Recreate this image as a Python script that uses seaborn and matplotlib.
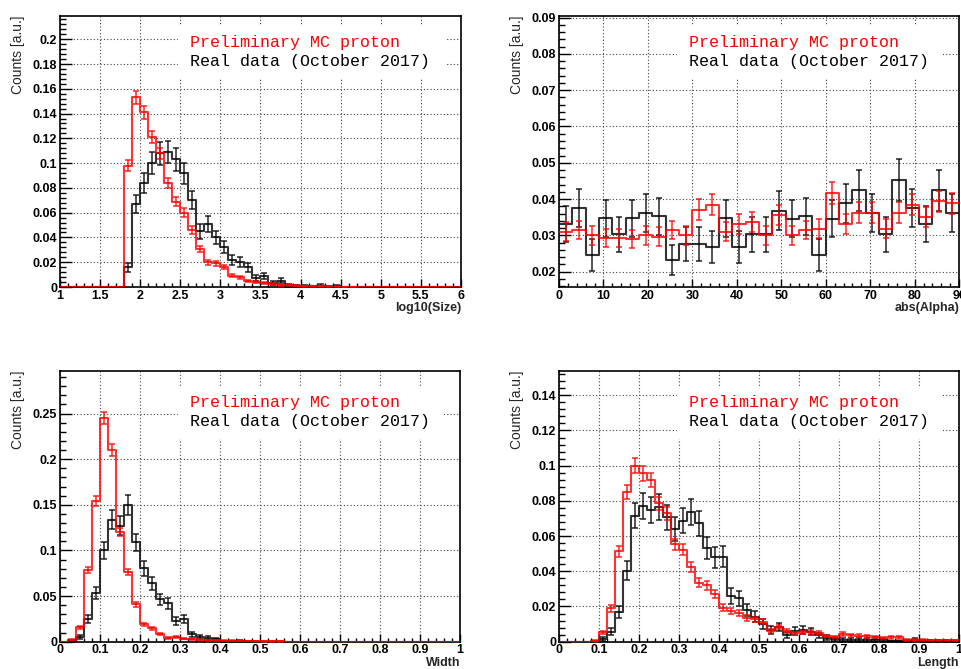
import numpy as np
import pandas as pd
import matplotlib
matplotlib.use("Agg")
import matplotlib.pyplot as plt
from matplotlib.patches import Rectangle
from matplotlib.ticker import MultipleLocator, FuncFormatter
import seaborn as sns

# ---- data (normalised counts per bin) ----
# log10(Size): 50 bins from 1 to 6
size_edges = np.linspace(1.0, 6.0, 51)
size_mc = [
    0, 0, 0, 0, 0, 0, 0, 0, 0.098, 0.153,
    0.141, 0.121, 0.108, 0.084, 0.069, 0.060, 0.046, 0.031, 0.020, 0.019,
    0.016, 0.009, 0.008, 0.005, 0.0043, 0.003, 0.0025, 0.0017, 0.0013, 0.001,
    0.0008, 0.0006, 0.0005, 0.0004, 0.0003, 0.0002, 0.0002, 0, 0, 0,
    0, 0, 0, 0, 0, 0, 0, 0, 0, 0]
size_mc_err = [
    0, 0, 0, 0, 0, 0, 0, 0, 0.0043, 0.0054,
    0.0052, 0.0048, 0.0045, 0.0040, 0.0036, 0.0034, 0.0030, 0.0024, 0.0020, 0.0019,
    0.0017, 0.0013, 0.0012, 0.0010, 0.0009, 0.0008, 0.0007, 0.0006, 0.0005, 0.0004,
    0.0004, 0.0003, 0.0003, 0.0003, 0.0002, 0.0002, 0.0002, 0, 0, 0,
    0, 0, 0, 0, 0, 0, 0, 0, 0, 0]
size_data = [
    0, 0, 0, 0, 0, 0, 0, 0, 0.016, 0.067,
    0.084, 0.100, 0.108, 0.109, 0.103, 0.092, 0.070, 0.045, 0.051, 0.040,
    0.0325, 0.022, 0.020, 0.016, 0.007, 0.009, 0.003, 0.005, 0.0015, 0.001,
    0.0008, 0.0005, 0.0012, 0.0004, 0.0008, 0, 0, 0, 0, 0,
    0, 0, 0, 0, 0, 0, 0, 0, 0, 0]
size_data_err = [
    0, 0, 0, 0, 0, 0, 0, 0, 0.0035, 0.0073,
    0.0081, 0.0089, 0.0092, 0.0092, 0.0090, 0.0085, 0.0074, 0.0059, 0.0063, 0.0056,
    0.0050, 0.0042, 0.0040, 0.0035, 0.0023, 0.0027, 0.0015, 0.0020, 0.0011, 0.0009,
    0.0008, 0.0006, 0.0010, 0.0006, 0.0008, 0, 0, 0, 0, 0,
    0, 0, 0, 0, 0, 0, 0, 0, 0, 0]

# abs(Alpha): 30 bins from 0 to 90
alpha_edges = np.linspace(0.0, 90.0, 31)
alpha_mc = [
    0.0310, 0.0315, 0.0301, 0.0294, 0.0294, 0.0291, 0.0301, 0.0297, 0.0315, 0.0301,
    0.0371, 0.0384, 0.0310, 0.0331, 0.0337, 0.0301, 0.0356, 0.0301, 0.0315, 0.0318,
    0.0416, 0.0332, 0.0363, 0.0363, 0.0319, 0.0363, 0.0384, 0.0350, 0.0394, 0.0388]
alpha_mc_err = [
    0.0026, 0.0026, 0.0026, 0.0025, 0.0025, 0.0025, 0.0026, 0.0025, 0.0026, 0.0026,
    0.0028, 0.0029, 0.0026, 0.0027, 0.0027, 0.0026, 0.0028, 0.0026, 0.0026, 0.0026,
    0.0030, 0.0027, 0.0028, 0.0028, 0.0026, 0.0028, 0.0029, 0.0028, 0.0029, 0.0029]
alpha_data = [
    0.0331, 0.0375, 0.0246, 0.0347, 0.0303, 0.0347, 0.0361, 0.0353, 0.0233, 0.0276,
    0.0276, 0.0268, 0.0347, 0.0268, 0.0303, 0.0303, 0.0368, 0.0346, 0.0353, 0.0246,
    0.0346, 0.0389, 0.0424, 0.0361, 0.0303, 0.0452, 0.0375, 0.0331, 0.0424, 0.0361]
alpha_data_err = [
    0.0050, 0.0053, 0.0043, 0.0051, 0.0048, 0.0051, 0.0052, 0.0051, 0.0042, 0.0046,
    0.0046, 0.0045, 0.0051, 0.0045, 0.0048, 0.0048, 0.0053, 0.0051, 0.0051, 0.0043,
    0.0051, 0.0054, 0.0056, 0.0052, 0.0048, 0.0058, 0.0053, 0.0050, 0.0056, 0.0052]

# Width: 50 bins from 0 to 1
width_edges = np.linspace(0.0, 1.0, 51)
width_mc = [
    0, 0.002, 0.0158, 0.0786, 0.154, 0.245, 0.210, 0.120, 0.0764, 0.041,
    0.019, 0.0146, 0.0081, 0.0044, 0.005, 0.0033, 0.0026, 0.002, 0.0015, 0.0015,
    0.001, 0.001, 0.0008, 0.0008, 0.0006, 0.0005, 0.0004, 0.0003, 0, 0,
    0, 0, 0, 0, 0, 0, 0, 0, 0, 0,
    0, 0, 0, 0, 0, 0, 0, 0, 0, 0]
width_mc_err = [
    0, 0.0006, 0.0017, 0.0037, 0.0052, 0.0066, 0.0061, 0.0046, 0.0037, 0.0027,
    0.0018, 0.0016, 0.0012, 0.0009, 0.0009, 0.0008, 0.0007, 0.0006, 0.0005, 0.0005,
    0.0004, 0.0004, 0.0004, 0.0004, 0.0003, 0.0003, 0.0003, 0.0002, 0, 0,
    0, 0, 0, 0, 0, 0, 0, 0, 0, 0,
    0, 0, 0, 0, 0, 0, 0, 0, 0, 0]
width_data = [
    0, 0.0005, 0.0048, 0.0252, 0.053, 0.100, 0.1334, 0.127, 0.150, 0.109,
    0.0805, 0.064, 0.0465, 0.042, 0.023, 0.0252, 0.0081, 0.0048, 0.004, 0.003,
    0.0005, 0.0003, 0.001, 0.0003, 0, 0, 0, 0, 0, 0,
    0, 0, 0, 0, 0, 0, 0, 0, 0, 0,
    0, 0, 0, 0, 0, 0, 0, 0, 0, 0]
width_data_err = [
    0, 0.0006, 0.0020, 0.0045, 0.0066, 0.0090, 0.0104, 0.0102, 0.0110, 0.0094,
    0.0081, 0.0072, 0.0061, 0.0058, 0.0043, 0.0045, 0.0026, 0.0020, 0.0018, 0.0016,
    0.0006, 0.0005, 0.0009, 0.0005, 0, 0, 0, 0, 0, 0,
    0, 0, 0, 0, 0, 0, 0, 0, 0, 0,
    0, 0, 0, 0, 0, 0, 0, 0, 0, 0]

# Length: 50 bins from 0 to 1
length_edges = np.linspace(0.0, 1.0, 51)
length_mc = [
    0, 0, 0, 0, 0.0005, 0.0053, 0.019, 0.0515, 0.0852, 0.100,
    0.0957, 0.0919, 0.0786, 0.073, 0.0553, 0.0523, 0.0426, 0.0335, 0.032, 0.0269,
    0.0193, 0.0176, 0.0165, 0.0133, 0.0127, 0.0114, 0.0061, 0.0085, 0.0063, 0.0048,
    0.0053, 0.0055, 0.005, 0.0032, 0.0027, 0.0044, 0.0036, 0.0034, 0.003, 0.0028,
    0.0022, 0.0025, 0.0025, 0.001, 0.0009, 0.001, 0.0008, 0.0008, 0.0007, 0.0008]
length_mc_err = [
    0, 0, 0, 0, 0.0003, 0.0010, 0.0019, 0.0031, 0.0039, 0.0043,
    0.0042, 0.0041, 0.0038, 0.0036, 0.0032, 0.0031, 0.0028, 0.0025, 0.0024, 0.0022,
    0.0019, 0.0018, 0.0017, 0.0016, 0.0015, 0.0014, 0.0011, 0.0012, 0.0011, 0.0009,
    0.0010, 0.0010, 0.0010, 0.0008, 0.0007, 0.0009, 0.0008, 0.0008, 0.0007, 0.0007,
    0.0006, 0.0007, 0.0007, 0.0004, 0.0004, 0.0004, 0.0004, 0.0004, 0.0004, 0.0004]
length_data = [
    0, 0, 0, 0, 0, 0.0015, 0.0057, 0.017, 0.0403, 0.0716,
    0.0771, 0.0748, 0.0764, 0.0707, 0.0639, 0.0688, 0.0737, 0.0673, 0.0534, 0.048,
    0.0483, 0.026, 0.0247, 0.018, 0.0142, 0.0101, 0.0066, 0.0082, 0.0038, 0.0061,
    0.0068, 0.0057, 0.0036, 0.0023, 0.0013, 0.001, 0.001, 0.001, 0.001, 0.0008,
    0.0008, 0.0002, 0.0002, 0.0003, 0.0012, 0.0005, 0.0005, 0.0005, 0.0003, 0.0002]
length_data_err = [
    0, 0, 0, 0, 0, 0.0010, 0.0020, 0.0035, 0.0054, 0.0072,
    0.0075, 0.0074, 0.0075, 0.0072, 0.0068, 0.0071, 0.0073, 0.0070, 0.0062, 0.0059,
    0.0059, 0.0044, 0.0042, 0.0036, 0.0032, 0.0027, 0.0022, 0.0024, 0.0017, 0.0021,
    0.0022, 0.0020, 0.0016, 0.0013, 0.0010, 0.0009, 0.0009, 0.0009, 0.0009, 0.0008,
    0.0008, 0.0004, 0.0004, 0.0005, 0.0009, 0.0006, 0.0006, 0.0006, 0.0005, 0.0004]

MC_LABEL = "Preliminary MC proton"
DATA_LABEL = "Real data (October 2017)"

sns.set_style("ticks")
plt.rcParams['font.family'] = ['Liberation Sans', 'DejaVu Sans']
plt.rcParams['font.weight'] = 'bold'


def draw_hist(ax, edges, vals, errs, color):
    edges = np.asarray(edges)
    vals = np.asarray(vals, dtype=float)
    errs = np.asarray(errs, dtype=float)
    centers = 0.5 * (edges[:-1] + edges[1:])
    df = pd.DataFrame({"x": centers, "w": vals})
    # bins passed as a list: seaborn compares bins == "auto" when weights are used
    sns.histplot(data=df, x="x", weights="w", bins=list(edges), element="step",
                 fill=False, color=color, linewidth=1.5, alpha=0.8, ax=ax, zorder=3)
    m = vals > 0
    ax.errorbar(centers[m], vals[m], yerr=errs[m], fmt="none", ecolor=color,
                elinewidth=1.1, capsize=2.2, capthick=1.1, alpha=0.85, zorder=3)


def fmt(v, pos):
    return f"{round(v, 6):g}"


def draw_panel(rect, edges, mc, mc_err, data, data_err, xlabel, xlim, ylim,
               xmaj, xmin, ymaj, ymin, text_y):
    ax = fig.add_axes(rect)
    draw_hist(ax, edges, data, data_err, "black")
    draw_hist(ax, edges, mc, mc_err, "red")

    ax.set_xlim(*xlim)
    ax.set_ylim(*ylim)
    ax.xaxis.set_major_locator(MultipleLocator(xmaj))
    ax.xaxis.set_minor_locator(MultipleLocator(xmin))
    ax.yaxis.set_major_locator(MultipleLocator(ymaj))
    ax.yaxis.set_minor_locator(MultipleLocator(ymin))
    ax.xaxis.set_major_formatter(FuncFormatter(fmt))
    ax.yaxis.set_major_formatter(FuncFormatter(fmt))

    ax.tick_params(axis='both', which='both', direction='in', width=1,
                   colors='black', labelsize=9, pad=2, top=False, right=False)
    ax.tick_params(axis='y', which='major', length=8.6)
    ax.tick_params(axis='y', which='minor', length=4.3)
    ax.tick_params(axis='x', which='major', length=5.8)
    ax.tick_params(axis='x', which='minor', length=2.9)

    ax.set_axisbelow(True)
    ax.grid(True, which='major', linestyle=(0, (1, 2)), color='#444444', linewidth=0.8)
    for s in ax.spines.values():
        s.set_linewidth(1.2)
        s.set_color('black')

    # white pave behind the two text lines
    ax.add_patch(Rectangle((0.295, text_y - 0.135), 0.665, 0.195, transform=ax.transAxes,
                           facecolor='white', edgecolor='none', zorder=1))
    ax.text(0.325, text_y, MC_LABEL, transform=ax.transAxes, color='red',
            family='Liberation Mono', fontweight='normal', fontsize=12,
            va='center', ha='left', zorder=4)
    ax.text(0.325, text_y - 0.07, DATA_LABEL, transform=ax.transAxes, color='black',
            family='Liberation Mono', fontweight='normal', fontsize=12,
            va='center', ha='left', zorder=4)

    ax.set_xlabel(xlabel, fontsize=9, fontweight='bold', loc='right')
    ax.xaxis.set_label_coords(1.0, -0.055)
    ax.set_ylabel("Counts [a.u.]", fontsize=10, fontweight='normal', loc='top')
    ax.yaxis.set_label_coords(-0.087, 1.0)
    return ax


fig = plt.figure(figsize=(9.61, 6.69), dpi=100)

draw_panel([0.0624, 0.571, 0.4173, 0.4055], size_edges, size_mc, size_mc_err,
           size_data, size_data_err, "log10(Size)", (1, 6), (0, 0.219),
           0.5, 0.1, 0.02, 0.004, 0.901)
draw_panel([0.5817, 0.571, 0.4163, 0.4055], alpha_edges, alpha_mc, alpha_mc_err,
           alpha_data, alpha_data_err, "abs(Alpha)", (0, 90), (0.0158, 0.0905),
           10, 2, 0.01, 0.002, 0.901)
draw_panel([0.0624, 0.0408, 0.4163, 0.4052], width_edges, width_mc, width_mc_err,
           width_data, width_data_err, "Width", (0, 1), (0, 0.297),
           0.1, 0.02, 0.05, 0.01, 0.882)
draw_panel([0.5817, 0.0408, 0.4163, 0.4052], length_edges, length_mc, length_mc_err,
           length_data, length_data_err, "Length", (0, 1), (0, 0.154),
           0.1, 0.02, 0.02, 0.004, 0.882)

fig.savefig("out.png", dpi=100)
plt.close(fig)
